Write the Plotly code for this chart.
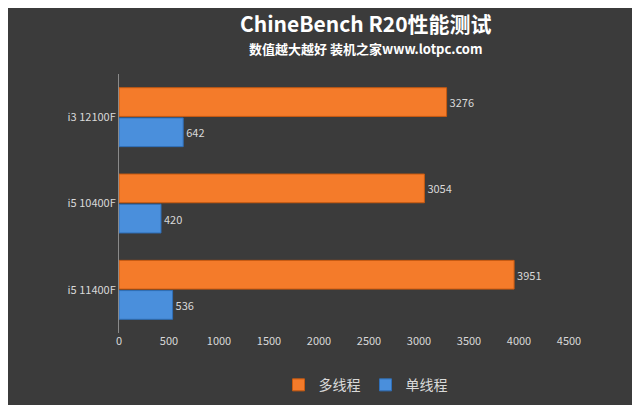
import plotly.graph_objects as go

cpus = ['i3 12100F', 'i5 10400F', 'i5 11400F']
multi = [3276, 3054, 3951]
single = [642, 420, 536]

fig = go.Figure()
fig.add_trace(go.Bar(y=cpus, x=multi, name='多线程', orientation='h',
                     marker=dict(color='#f47b2a', line=dict(color='#c85a10', width=1)),
                     text=multi, textposition='outside', cliponaxis=False,
                     textfont=dict(color='#d9d9d9', size=11), legendrank=1))
fig.add_trace(go.Bar(y=cpus, x=single, name='单线程', orientation='h',
                     marker=dict(color='#4a8fdc', line=dict(color='#2f6fb8', width=1)),
                     text=single, textposition='outside', cliponaxis=False,
                     textfont=dict(color='#d9d9d9', size=11), legendrank=2))

fig.add_annotation(text='<b>ChineBench R20性能测试</b>', xref='paper', yref='paper',
                   x=0.5, y=1.0, yshift=51, xanchor='center', yanchor='middle',
                   showarrow=False, font=dict(size=21, color='white'))
fig.add_annotation(text='<b>数值越大越好 装机之家www.lotpc.com</b>', xref='paper', yref='paper',
                   x=0.5, y=1.0, yshift=26, xanchor='center', yanchor='middle',
                   showarrow=False, font=dict(size=13, color='white'))

fig.update_layout(
    width=640, height=405,
    paper_bgcolor='#3b3b3b', plot_bgcolor='#3b3b3b',
    font=dict(family='Noto Sans CJK SC', color='#d9d9d9', size=11),
    margin=dict(l=111, r=36, t=66, b=72),
    barmode='group', bargap=0.3, bargroupgap=0.05,
    showlegend=True,
    legend=dict(orientation='h', x=0.5, xanchor='center', y=-0.14, yanchor='top',
                font=dict(size=14, color='#d9d9d9')),
    xaxis=dict(range=[0, 4930], tickvals=list(range(0, 5000, 500)), showgrid=False,
               zeroline=False, showline=False, tickfont=dict(size=11, color='#d9d9d9')),
    yaxis=dict(categoryorder='array', categoryarray=cpus, autorange='reversed',
               showgrid=False, showline=True, linecolor='#8a8a8a',
               ticks='outside', tickcolor='#8a8a8a', ticklen=0,
               tickfont=dict(size=11, color='#d9d9d9')),
)
fig.write_html('out.html')
